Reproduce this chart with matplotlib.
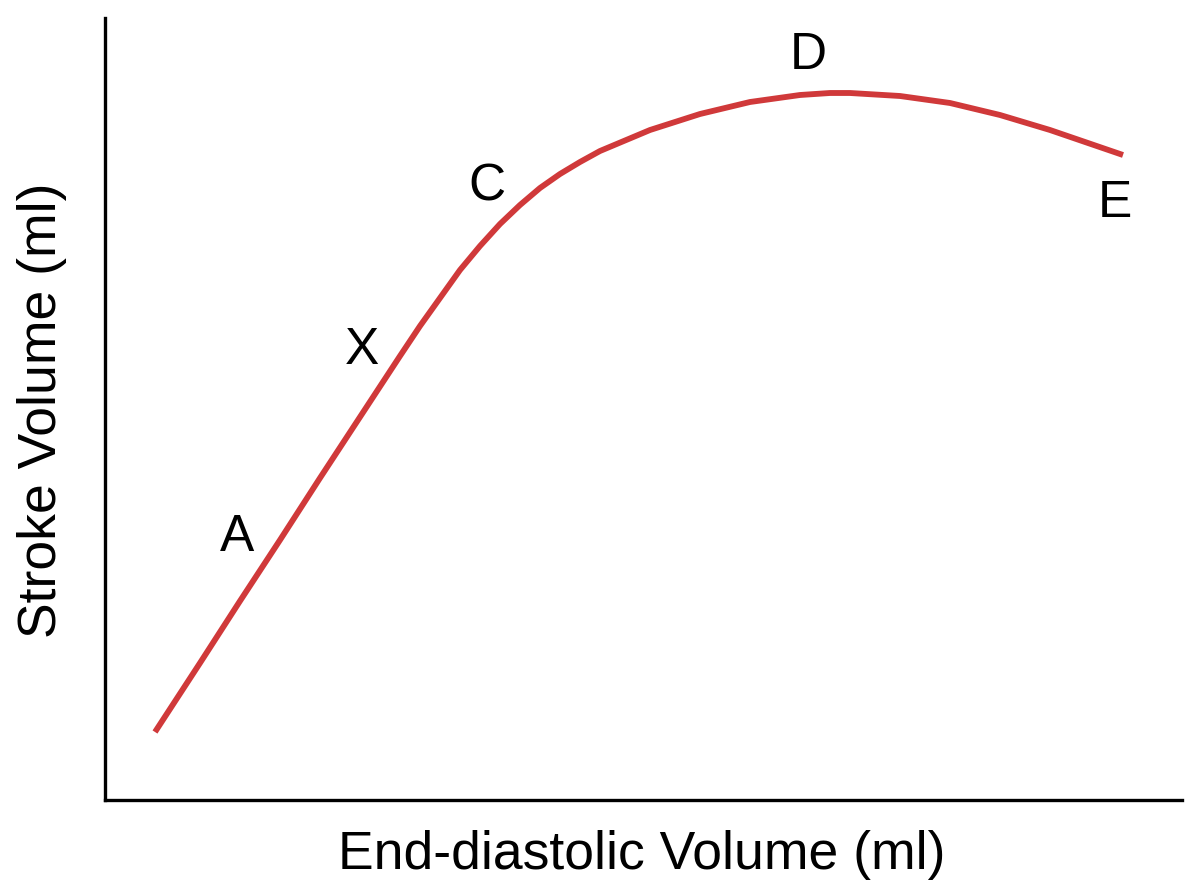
import matplotlib
matplotlib.use("Agg")
import matplotlib.pyplot as plt

edv = [155, 200, 240, 280, 320, 360, 400, 420, 440, 460, 480, 500, 520, 540, 560, 580, 600, 650, 700, 750, 800, 830, 850, 900, 950, 1000, 1050, 1123]
sv_px = [732, 663, 601, 540, 478, 417, 356, 326, 298, 270, 246, 224, 205, 188, 174, 162, 151, 130, 114, 102, 95, 93, 93, 96, 103, 115, 130, 155]
sv = [800 - v for v in sv_px]
labels = ["A", "X", "C", "D", "E"]
label_x = [237, 362, 487, 808, 1115]
label_y = [800 - v for v in [537, 350, 187, 55, 203]]

fig = plt.figure(figsize=(12, 8.96), dpi=100)
ax = fig.add_axes([105/1200, 96/896, 1077/1200, 782/896])
ax.plot(edv, sv, color="#d0393a", lw=4.2, solid_capstyle="butt", solid_joinstyle="round")
for t, x, y in zip(labels, label_x, label_y):
    ax.text(x, y, t, fontsize=37, ha="center", va="center", family="Liberation Sans")
ax.set_xlim(105, 1182)
ax.set_ylim(0, 782)
ax.set_xticks([]); ax.set_yticks([])
for s in ["top", "right"]:
    ax.spines[s].set_visible(False)
for s in ["left", "bottom"]:
    ax.spines[s].set_linewidth(2.4)
fig.text(642/1200, 1 - 855/896, "End-diastolic Volume (ml)", fontsize=38.5, ha="center", va="center", family="Liberation Sans")
fig.text(42/1200, 1 - 410/896, "Stroke Volume (ml)", fontsize=38.5, ha="center", va="center", rotation=90, family="Liberation Sans")
fig.savefig("out.png")
